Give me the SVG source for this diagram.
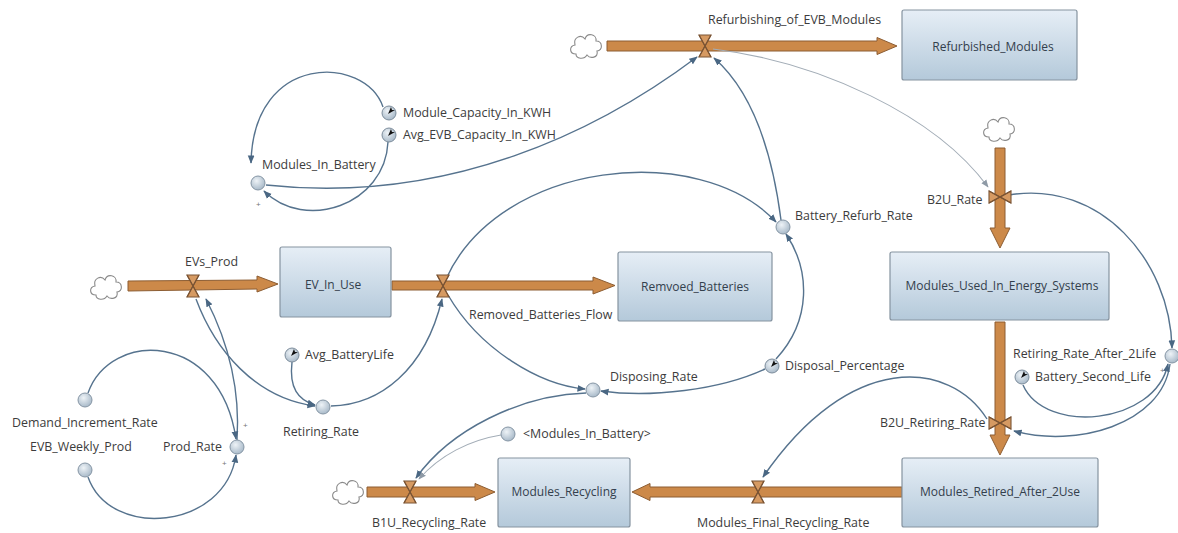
<svg xmlns="http://www.w3.org/2000/svg" width="1178" height="533" viewBox="0 0 1178 533">
<defs>
<linearGradient id="gStock" x1="0" y1="0" x2="0" y2="1">
<stop offset="0" stop-color="#e6eef6"/><stop offset="1" stop-color="#b4c9da"/>
</linearGradient>
<radialGradient id="gAux" cx="0.4" cy="0.35" r="0.7">
<stop offset="0" stop-color="#eef3f7"/><stop offset="1" stop-color="#a4b6c6"/>
</radialGradient>
<marker id="ah" viewBox="0 0 10 10" refX="9" refY="5" markerWidth="6" markerHeight="6" orient="auto">
<path d="M0,1 L10,5 L0,9 z" fill="#4a6783"/>
</marker>
<marker id="ahg" viewBox="0 0 10 10" refX="9" refY="5" markerWidth="7" markerHeight="7" orient="auto">
<path d="M0,1 L10,5 L0,9 z" fill="#8e9aa6"/>
</marker>
<path id="cloud" d="M -10,8 C -17,8 -17,0 -11,-1 C -13,-9 -5,-12 -1,-7 C 1,-14 11,-12 10,-5 C 17,-5 17,5 11,5 C 13,12 4,13 1,9 C -2,14 -10,13 -10,8 Z"/>
<g id="valveH"><path d="M -6,-11 L 6,-11 L 0,0 L 6,11 L -6,11 L 0,0 Z"/><path d="M -6,-11 L 6,11 M 6,-11 L -6,11" fill="none"/></g>
<g id="konst"><circle r="7" fill="url(#gAux)" stroke="#7d8d9c" stroke-width="1"/><path d="M -1,1 L 2,-6 L 3,-3 L 6,-3 Z" fill="#111" stroke="none"/></g>
</defs>
<style>
.lbl{font-family:"Open Sans","Liberation Sans",sans-serif;font-size:12.4px;fill:#3c3c3c}
.stk rect{fill:url(#gStock);stroke:#8593a0;stroke-width:1.2}
.stk text{font-family:"Open Sans","Liberation Sans",sans-serif;font-size:12px;fill:#33404d;text-anchor:middle}
.aux circle{fill:url(#gAux);stroke:#8696a5;stroke-width:1}
.link{fill:none;stroke:#56738e;stroke-width:1.4;marker-end:url(#ah)}
.glink{fill:none;stroke:#a3adb7;stroke-width:1.1;marker-end:url(#ahg)}
.pipe{fill:#cc8949;stroke:#8c5d33;stroke-width:1}
.valve{fill:#d69a62;stroke:#7a5434;stroke-width:1.1}
.cloud{fill:#fff;stroke:#8a8a8a;stroke-width:1.1}
.pm{font-family:"Liberation Sans",sans-serif;font-size:8px;fill:#777}
</style>
<rect width="1178" height="533" fill="#fff"/>

<g id="connectors">
<polygon class="pipe" points="607,41 877,41 877,37.5 897,46 877,54.5 877,51 607,51"/>
<polygon class="pipe" points="128,281 257,280 257,276 278,284 257,292 257,289 128,291"/>
<polygon class="pipe" points="392,281 593,281 593,277 615,285.5 593,294 593,290 392,290"/>
<polygon class="pipe" points="367,487 475,487 475,483.5 495,492 475,500.5 475,497 367,497"/>
<polygon class="pipe" points="902,487 650,487 650,483.5 632,492 650,500.5 650,497 902,497"/>
<polygon class="pipe" points="995,148 995,228 990,228 1000,248 1010,228 1005,228 1005,148"/>
<polygon class="pipe" points="995,322 995,435 990,435 1000,455 1010,435 1005,435 1005,322"/>
<path class="link" d="M 383,107 C 365,55 253,52 251,163"/>
<path class="link" d="M 388,142 C 385,205 305,232 264,191"/>
<path class="link" d="M 266,185 C 450,205 600,130 697,57"/>
<path class="link" d="M 781,220 C 770,135 745,85 714,58"/>
<path class="glink" d="M 713,49 C 820,62 935,115 988,187"/>
<path class="link" d="M 446,279 C 500,160 700,140 776,222"/>
<path class="link" d="M 448,295 C 480,350 540,385 585,389"/>
<path class="link" d="M 331,406 C 380,405 425,370 442,299"/>
<path class="link" d="M 292,362 C 289,388 298,400 315,405"/>
<path class="link" d="M 196,299 C 215,350 255,398 315,406"/>
<path class="link" d="M 237,440 C 241,380 222,330 206,299"/>
<path class="link" d="M 88,393 C 110,330 220,330 236,439"/>
<path class="link" d="M 88,477 C 110,540 225,530 236,455"/>
<path class="link" d="M 1009,195 C 1100,180 1170,260 1172,348"/>
<path class="link" d="M 1170,364 C 1162,425 1075,448 1014,431"/>
<path class="link" d="M 1023,385 C 1045,435 1155,425 1168,364"/>
<path class="link" d="M 765,369 C 720,390 650,398 601,391"/>
<path class="link" d="M 776,359 C 812,320 810,270 786,234"/>
<path class="link" d="M 586,393 C 520,395 450,430 416,478"/>
<path class="glink" d="M 501,435 C 470,440 440,455 419,479"/>
<path class="link" d="M 987,419 C 950,360 850,350 763,477"/>
</g>

<g id="stock-refurbished-modules" class="stk"><rect x="902" y="10" width="175" height="70" rx="2"/><text x="993" y="51">Refurbished_Modules</text></g>
<g id="stock-ev-in-use" class="stk"><rect x="280" y="247" width="111" height="70" rx="2"/><text x="333" y="289">EV_In_Use</text></g>
<g id="stock-removed-batteries" class="stk"><rect x="618" y="252" width="154" height="69" rx="2"/><text x="695" y="291">Remvoed_Batteries</text></g>
<g id="stock-modules-used" class="stk"><rect x="890" y="252" width="219" height="68" rx="2"/><text x="1002" y="290">Modules_Used_In_Energy_Systems</text></g>
<g id="stock-modules-recycling" class="stk"><rect x="498" y="458" width="132" height="69" rx="2"/><text x="564" y="496">Modules_Recycling</text></g>
<g id="stock-modules-retired" class="stk"><rect x="902" y="458" width="196" height="69" rx="2"/><text x="1000" y="496">Modules_Retired_After_2Use</text></g>

<g id="cloud-refurb"><use href="#cloud" class="cloud" x="586" y="46"/></g>
<g id="cloud-evs"><use href="#cloud" class="cloud" x="106" y="287"/></g>
<g id="cloud-b2u"><use href="#cloud" class="cloud" x="999" y="129"/></g>
<g id="cloud-b1u"><use href="#cloud" class="cloud" x="348" y="492"/></g>

<g id="flow-refurbishing"><use href="#valveH" class="valve" x="705" y="46"/><text class="lbl" x="708" y="24">Refurbishing_of_EVB_Modules</text></g>
<g id="flow-evs-prod"><use href="#valveH" class="valve" x="193" y="286"/><text class="lbl" x="185" y="266">EVs_Prod</text></g>
<g id="flow-removed"><use href="#valveH" class="valve" x="443" y="286"/><text class="lbl" x="469" y="319">Removed_Batteries_Flow</text></g>
<g id="flow-b1u"><use href="#valveH" class="valve" x="410" y="492"/><text class="lbl" x="372" y="527">B1U_Recycling_Rate</text></g>
<g id="flow-final"><use href="#valveH" class="valve" x="758" y="492"/><text class="lbl" x="697" y="527">Modules_Final_Recycling_Rate</text></g>
<g id="flow-b2u"><use href="#valveH" class="valve" transform="translate(1000,197) rotate(90)"/><text class="lbl" x="927" y="204">B2U_Rate</text></g>
<g id="flow-b2u-retiring"><use href="#valveH" class="valve" transform="translate(1000,423) rotate(90)"/><text class="lbl" x="880" y="427">B2U_Retiring_Rate</text></g>

<g id="aux-modules-in-battery" class="aux"><circle cx="258" cy="183" r="7"/><text class="lbl" x="262" y="169">Modules_In_Battery</text><text class="pm" x="256" y="207">+</text></g>
<g id="const-module-capacity"><use href="#konst" x="389" y="113"/><text class="lbl" x="403" y="117">Module_Capacity_In_KWH</text></g>
<g id="const-avg-evb-capacity"><use href="#konst" x="389" y="135"/><text class="lbl" x="403" y="139">Avg_EVB_Capacity_In_KWH</text></g>
<g id="aux-battery-refurb-rate" class="aux"><circle cx="783" cy="227" r="7"/><text class="lbl" x="795" y="220">Battery_Refurb_Rate</text></g>
<g id="const-disposal-percentage"><use href="#konst" x="772" y="366"/><text class="lbl" x="785" y="370">Disposal_Percentage</text></g>
<g id="aux-disposing-rate" class="aux"><circle cx="593" cy="390" r="7"/><text class="lbl" x="610" y="381">Disposing_Rate</text></g>
<g id="const-avg-batterylife"><use href="#konst" x="292" y="355"/><text class="lbl" x="305" y="359">Avg_BatteryLife</text></g>
<g id="aux-retiring-rate" class="aux"><circle cx="323" cy="407" r="7"/><text class="lbl" x="283" y="436">Retiring_Rate</text></g>
<g id="aux-demand-increment-rate" class="aux"><circle cx="85" cy="400" r="7"/><text class="lbl" x="12" y="427">Demand_Increment_Rate</text></g>
<g id="aux-evb-weekly-prod" class="aux"><circle cx="85" cy="470" r="7"/><text class="lbl" x="30" y="451">EVB_Weekly_Prod</text></g>
<g id="aux-prod-rate" class="aux"><circle cx="237" cy="447" r="7"/><text class="lbl" x="163" y="451">Prod_Rate</text><text class="pm" x="243" y="428">+</text><text class="pm" x="222" y="466">+</text></g>
<g id="shadow-modules-in-battery" class="aux"><circle cx="508" cy="434" r="7"/><text class="lbl" x="523" y="438">&lt;Modules_In_Battery&gt;</text></g>
<g id="aux-retiring-rate-after-2life" class="aux"><circle cx="1172" cy="356" r="7"/><text class="lbl" x="1013" y="358">Retiring_Rate_After_2Life</text><text class="pm" x="1160" y="373">+</text></g>
<g id="const-battery-second-life"><use href="#konst" x="1022" y="377"/><text class="lbl" x="1035" y="381">Battery_Second_Life</text></g>
</svg>
